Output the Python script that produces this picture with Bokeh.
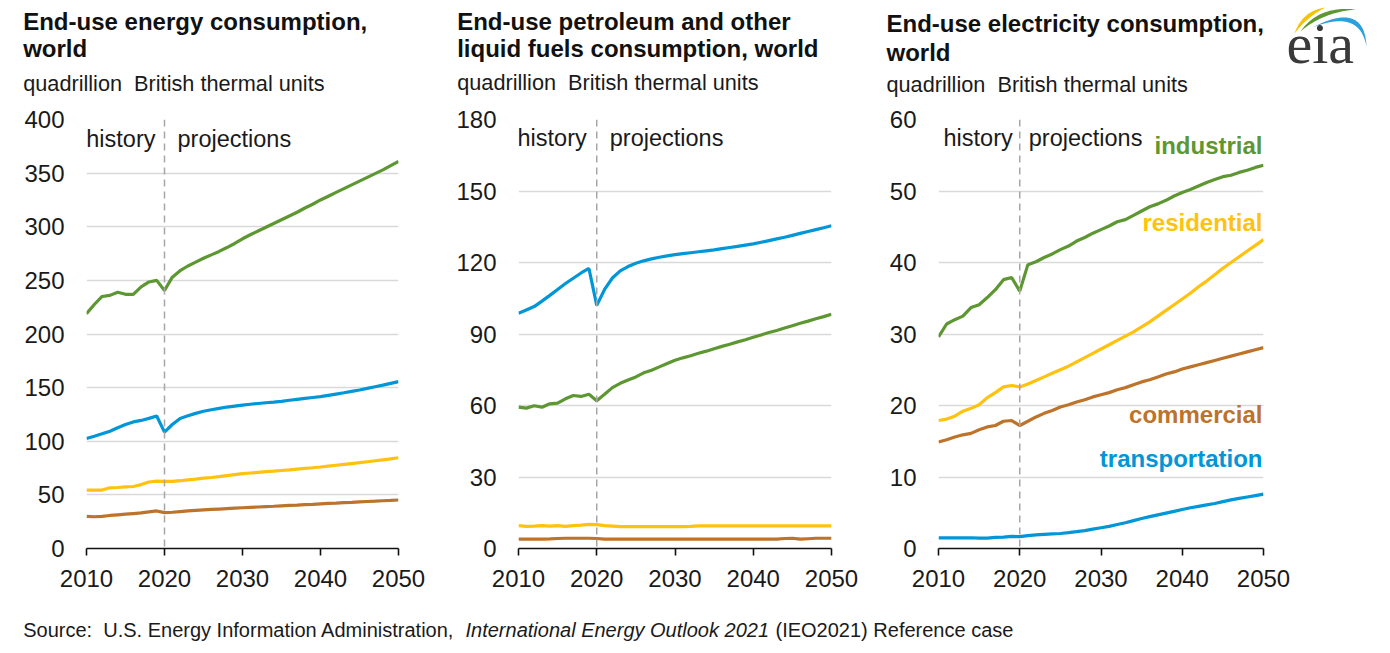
from bokeh.plotting import figure
from bokeh.models import Range1d, Span, Label, FixedTicker
from bokeh.layouts import row, column
from bokeh.embed import file_html
from bokeh.resources import INLINE

years = list(range(2010, 2051))

# ---- Panel 1: end-use energy consumption, world (quad Btu)
energy_industrial = [219, 227.5, 235, 236, 239, 237, 237, 244, 248.5, 250,
                     240.6, 253, 259, 263.4, 267, 270.6, 273.8, 277, 280.6, 284.4,
                     288.8, 292.5, 296, 299.5, 303, 306.5, 310, 313.5, 317.5, 321,
                     325, 328.5, 332, 335.5, 339, 342.5, 346, 349.5, 353, 357,
                     361]
energy_transportation = [102.5, 104.7, 107, 109.4, 112.5, 115.6, 118, 119.4, 121.3, 123.5,
                         108.5, 115.6, 121.3, 123.7, 126, 128, 129.4, 130.6, 131.9, 132.8,
                         133.7, 134.5, 135.2, 135.9, 136.5, 137.2, 138.2, 139.1, 140, 140.8,
                         141.6, 142.8, 144, 145.2, 146.5, 147.8, 149.3, 150.8, 152.3, 154,
                         155.6]
energy_residential = [54.5, 54.5, 54.5, 56.6, 56.9, 57.5, 57.8, 59.6, 62, 62.9,
                      62.6, 62.6, 63.2, 64, 64.7, 65.6, 66.2, 67, 68, 68.9,
                      69.8, 70.4, 71, 71.6, 72.1, 72.7, 73.3, 74, 74.7, 75.3,
                      76, 76.8, 77.6, 78.4, 79.2, 80, 80.9, 81.8, 82.7, 83.6,
                      84.6]
energy_commercial = [30, 29.6, 30, 30.8, 31.4, 32, 32.6, 33.2, 34.1, 35,
                     33.5, 33.8, 34.4, 35, 35.5, 36, 36.4, 36.8, 37.2, 37.6,
                     38, 38.4, 38.7, 39.1, 39.4, 39.8, 40.2, 40.5, 40.9, 41.2,
                     41.6, 42, 42.3, 42.7, 43, 43.4, 43.8, 44.1, 44.5, 44.8,
                     45.2]

# ---- Panel 2: end-use petroleum and other liquid fuels consumption, world
liquids_transportation = [98.7, 100.1, 101.5, 103.8, 106.2, 108.7, 111.2, 113.4, 115.6, 117.5,
                          102, 108.7, 113.5, 116.5, 118.3, 119.7, 120.7, 121.5, 122.2, 122.8,
                          123.3, 123.7, 124.1, 124.5, 124.9, 125.3, 125.8, 126.3, 126.8, 127.3,
                          127.8, 128.5, 129.2, 129.9, 130.6, 131.4, 132.2, 133, 133.8, 134.6,
                          135.4]
liquids_industrial = [59.3, 58.9, 59.9, 59.3, 60.7, 61, 62.8, 64.2, 63.8, 64.7,
                      62, 64.7, 67.5, 69.3, 70.7, 72, 73.7, 74.8, 76.2, 77.6,
                      79, 80, 80.9, 81.9, 82.8, 83.8, 84.8, 85.7, 86.7, 87.6,
                      88.6, 89.6, 90.6, 91.5, 92.5, 93.5, 94.5, 95.4, 96.4, 97.3,
                      98.3]
liquids_residential = [9.6, 9.3, 9.4, 9.6, 9.4, 9.6, 9.3, 9.6, 9.8, 10.1,
                       10.0, 9.6, 9.4, 9.2, 9.2, 9.2, 9.2, 9.2, 9.2, 9.2,
                       9.2, 9.2, 9.3, 9.5, 9.5, 9.5, 9.5, 9.5, 9.5, 9.5,
                       9.5, 9.5, 9.5, 9.5, 9.5, 9.5, 9.5, 9.5, 9.5, 9.5,
                       9.5]
liquids_commercial = [3.9, 3.9, 3.9, 3.9, 4.0, 4.2, 4.3, 4.3, 4.3, 4.3,
                      4.2, 3.9, 3.9, 3.9, 3.9, 3.9, 3.9, 3.9, 3.9, 3.9,
                      3.9, 3.9, 3.9, 3.9, 3.9, 3.9, 3.9, 3.9, 3.9, 3.9,
                      3.9, 3.9, 3.9, 3.9, 4.2, 4.3, 3.9, 4.1, 4.3, 4.3,
                      4.3]

# ---- Panel 3: end-use electricity consumption, world
elec_industrial = [29.6, 31.4, 32, 32.5, 33.7, 34.1, 35.1, 36.2, 37.6, 37.9,
                   36, 39.7, 40.1, 40.7, 41.2, 41.8, 42.3, 43, 43.5, 44.1,
                   44.6, 45.1, 45.7, 46, 46.6, 47.2, 47.8, 48.2, 48.7, 49.3,
                   49.8, 50.2, 50.7, 51.2, 51.6, 52, 52.2, 52.6, 52.9, 53.3,
                   53.6]
elec_residential = [17.9, 18.1, 18.5, 19.2, 19.6, 20.1, 21.1, 21.8, 22.6, 22.8,
                    22.6, 23.0, 23.5, 24.0, 24.5, 25.0, 25.5, 26.1, 26.7, 27.3,
                    27.9, 28.5, 29.1, 29.7, 30.3, 31.0, 31.7, 32.5, 33.3, 34.1,
                    34.9, 35.7, 36.6, 37.4, 38.3, 39.2, 40.0, 40.8, 41.6, 42.4,
                    43.2]
elec_commercial = [14.9, 15.2, 15.6, 15.9, 16.1, 16.6, 17, 17.2, 17.8, 17.9,
                   17.2, 17.8, 18.4, 18.9, 19.3, 19.8, 20.1, 20.5, 20.8, 21.2,
                   21.5, 21.8, 22.2, 22.5, 22.9, 23.3, 23.6, 24.0, 24.4, 24.7,
                   25.1, 25.4, 25.7, 26.0, 26.3, 26.6, 26.9, 27.2, 27.5, 27.8,
                   28.1]
elec_transportation = [1.5, 1.5, 1.5, 1.5, 1.5, 1.45, 1.45, 1.55, 1.6, 1.7,
                       1.65, 1.8, 1.9, 1.97, 2.04, 2.1, 2.22, 2.35, 2.5, 2.7,
                       2.9, 3.1, 3.35, 3.6, 3.9, 4.2, 4.45, 4.7, 4.95, 5.2,
                       5.45, 5.7, 5.9, 6.1, 6.3, 6.55, 6.8, 7.0, 7.2, 7.4,
                       7.6]

x_ticks = [2010, 2020, 2030, 2040, 2050]
divider_year = 2020

titles = [["End-use energy consumption,", "world"],
          ["End-use petroleum and other", "liquid fuels consumption, world"],
          ["End-use electricity consumption,", "world"]]
subtitle = "quadrillion\u00a0 British thermal units"
series_labels = ["industrial", "residential", "commercial", "transportation"]
source_parts = ["Source:\u00a0 U.S. Energy Information Administration,",
                "International Energy Outlook 2021",
                "(IEO2021) Reference case"]

GREEN = "#5d9732"
BLUE = "#0096d7"
YELLOW = "#ffc20e"
BROWN = "#bd732a"
TEXT = "#1a1a1a"
FONT = "Liberation Sans"

PAGE_W = 1385
HEAD_H = 104
CHART_H = 500
SRC_H = 46
BASE_CORR = 0.36   # baseline correction (fraction of font size) for rendered labels


def blank(width, height):
    p = figure(width=width, height=height, x_range=Range1d(0, width), y_range=Range1d(0, height),
               output_backend="svg", toolbar_location=None, min_border=0,
               x_axis_location=None, y_axis_location=None)
    p.outline_line_color = None
    p.grid.visible = False
    return p


def make_panel(width, bl, br, bt, bb, ymax, ystep):
    p = figure(width=width, height=CHART_H,
               x_range=Range1d(2010, 2050), y_range=Range1d(0, ymax),
               output_backend="svg", toolbar_location=None,
               min_border_left=bl, min_border_right=br,
               min_border_top=bt, min_border_bottom=bb)
    p.outline_line_color = None
    p.xgrid.grid_line_color = None
    p.ygrid.grid_line_color = "#d9d9d9"
    p.ygrid.grid_line_width = 1.3
    p.xaxis.ticker = FixedTicker(ticks=x_ticks)
    p.yaxis.ticker = FixedTicker(ticks=list(range(0, ymax + 1, ystep)))
    p.xaxis.axis_line_color = "#111111"
    p.xaxis.axis_line_width = 1.6
    p.xaxis.major_tick_line_color = "#111111"
    p.xaxis.major_tick_line_width = 1.6
    p.xaxis.major_tick_out = 7
    p.xaxis.major_tick_in = 0
    p.xaxis.minor_tick_line_color = None
    p.xaxis.major_label_standoff = 14
    p.yaxis.axis_line_color = None
    p.yaxis.major_tick_line_color = None
    p.yaxis.minor_tick_line_color = None
    p.yaxis.major_label_standoff = 16
    for ax in (p.xaxis, p.yaxis):
        ax.major_label_text_font = FONT
        ax.major_label_text_font_size = "24px"
        ax.major_label_text_color = TEXT
    p.add_layout(Span(location=divider_year, dimension="height",
                      line_color="#a6a6a6", line_dash="7 5", line_width=1.5))
    return p


def add_history(p, hist_y, ppu, hist_off, proj_off, fs=23.5):
    y = hist_y + BASE_CORR * fs / ppu
    for txt, off, align in (("history", hist_off, "right"), ("projections", proj_off, "left")):
        p.add_layout(Label(x=divider_year, y=y, x_offset=off, text=txt,
                           text_align=align, text_baseline="alphabetic",
                           text_font=FONT, text_font_size=f"{fs}px", text_color=TEXT))


LW = 3.2

# ---------------- header (titles + logo), page pixel coordinates (y measured from top)
head = blank(PAGE_W, HEAD_H)
TFS, SFS = 24, 21.7
title_pos = [(22.7, [29.3, 56.7], 90.7), (456.7, [29.3, 56.7], 90.0), (886, [32.0, 60.5], 92.0)]
for lines, (tx, bases, sub_base) in zip(titles, title_pos):
    for line, b in zip(lines, bases):
        head.add_layout(Label(x=tx, y=HEAD_H - b + BASE_CORR * TFS, text=line, text_font=FONT,
                              text_font_size=f"{TFS}px", text_font_style="bold",
                              text_color="#111111", text_baseline="alphabetic"))
    head.add_layout(Label(x=tx, y=HEAD_H - sub_base + BASE_CORR * SFS, text=subtitle,
                          text_font=FONT, text_font_size=f"{SFS}px", text_color=TEXT,
                          text_baseline="alphabetic"))


def crescent(p0, c_out, c_in, p2, n=30):
    xs, ys = [], []
    for ctrl, rng in ((c_out, range(n + 1)), (c_in, range(n, -1, -1))):
        for i in rng:
            t = i / n
            xs.append((1 - t) ** 2 * p0[0] + 2 * (1 - t) * t * ctrl[0] + t ** 2 * p2[0])
            ys.append(HEAD_H - ((1 - t) ** 2 * p0[1] + 2 * (1 - t) * t * ctrl[1] + t ** 2 * p2[1]))
    return xs, ys


for (a, b, c, d), col in [(((1294, 33), (1302, 10), (1307, 16), (1325, 7)), "#f5c400"),
                          (((1300, 31), (1318, 5), (1322, 12), (1355, 9)), "#5d9732"),
                          (((1312, 27), (1364, 0), (1359, 8), (1366, 46)), "#2aa0dc")]:
    xs, ys = crescent(a, b, c, d)
    head.patch(xs, ys, fill_color=col, line_color=None)
head.add_layout(Label(x=1286, y=HEAD_H - 64 + BASE_CORR * 58, text="eia",
                      text_font="Liberation Serif", text_font_size="58px",
                      text_color="#3a3a3a", text_baseline="alphabetic"))

# ---------------- Panel 1
p1 = make_panel(440, 86, 42, 15, 56, 400, 50)
p1.line(years, energy_industrial, line_color=GREEN, line_width=LW)
p1.line(years, energy_transportation, line_color=BLUE, line_width=LW)
p1.line(years, energy_residential, line_color=YELLOW, line_width=LW)
p1.line(years, energy_commercial, line_color=BROWN, line_width=LW)
add_history(p1, 374, 429 / 400, -9, 13)

# ---------------- Panel 2
p2 = make_panel(428, 78, 37, 15, 52, 180, 30)
p2.line(years, liquids_transportation, line_color=BLUE, line_width=LW)
p2.line(years, liquids_industrial, line_color=GREEN, line_width=LW)
p2.line(years, liquids_residential, line_color=YELLOW, line_width=LW)
p2.line(years, liquids_commercial, line_color=BROWN, line_width=LW)
add_history(p2, 168.7, 433 / 180, -10, 13)

# ---------------- Panel 3
p3 = make_panel(PAGE_W - 868, 70, PAGE_W - 1263, 15, 56, 60, 10)
p3.line(years, elec_industrial, line_color=GREEN, line_width=LW)
p3.line(years, elec_residential, line_color=YELLOW, line_width=LW)
p3.line(years, elec_commercial, line_color=BROWN, line_width=LW)
p3.line(years, elec_transportation, line_color=BLUE, line_width=LW)
PPU3 = 429 / 60
add_history(p3, 56.2, PPU3, -7, 9)

label_y = [55.1, 44.4, 17.5, 11.4]
label_colors = [GREEN, YELLOW, BROWN, BLUE]
for txt, yv, col in zip(series_labels, label_y, label_colors):
    p3.add_layout(Label(x=2050, y=yv + BASE_CORR * 24 / PPU3, x_offset=-1, text=txt,
                        text_align="right", text_baseline="alphabetic", text_font=FONT,
                        text_font_size="24px", text_font_style="bold", text_color=col))

# ---------------- Source line (page baseline ~637; this strip starts at 604)
src = blank(PAGE_W, SRC_H)
for txt, style, sx in zip(source_parts, ["normal", "italic", "normal"], [22.7, 465, 775]):
    src.add_layout(Label(x=sx, y=SRC_H - (637 - 604) + BASE_CORR * 20, text=txt, text_font=FONT,
                         text_font_size="20px", text_font_style=style, text_color=TEXT,
                         text_baseline="alphabetic"))

layout = column(head, row(p1, p2, p3, spacing=0), src, spacing=0)
open("out.html", "w").write(file_html(layout, INLINE))
